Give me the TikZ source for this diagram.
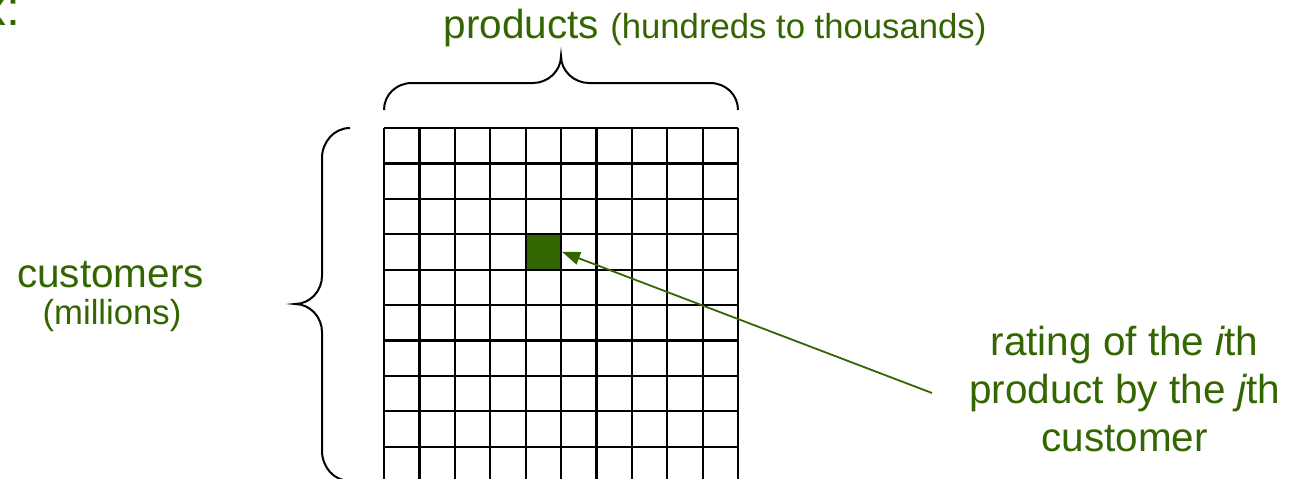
\documentclass[tikz,border=0pt]{standalone}
\usepackage{fontspec}
\setmainfont{Liberation Sans}
\usetikzlibrary{positioning, arrows.meta, calc}
\definecolor{leaf}{HTML}{336600}

\begin{document}
\begin{tikzpicture}[
    x=1pt, y=-1pt,
    bigtext/.style={
        text=leaf, inner sep=0pt,
        font=\fontsize{40.5}{48.4}\selectfont
    },
    smalltext/.style={
        text=leaf, inner sep=0pt,
        font=\fontsize{34.7}{41.6}\selectfont
    },
    gridline/.style={line width=2.2pt, black},
    brace/.style={line width=2pt, black},
    ratecell/.style={
        rectangle, draw=black, line width=2.2pt, fill=leaf,
        minimum size=35.4pt, inner sep=0pt
    },
    pointer/.style={-{Triangle[length=18pt, width=13pt]}, line width=1.8pt, draw=leaf}
]

\useasboundingbox (0,0) rectangle (1291,479);
\clip (0,0) rectangle (1291,479);

%% ─── TITLE (cut off at the left edge) ───────────────────────────────────

\node[bigtext, font=\fontsize{50}{60}\selectfont, anchor=base east] (title) at (20.5,25) {x:};

%% ─── RATINGS GRID ───────────────────────────────────────────────────────

\foreach \k in {0,...,10} {
    \draw[gridline] (384+35.4*\k,128) -- (384+35.4*\k,482);
    \draw[gridline] (384,128+35.4*\k) -- (738,128+35.4*\k);
}

\node[ratecell] (rij) at (543.3,251.9) {};

%% ─── BRACES ─────────────────────────────────────────────────────────────

% over the columns
\draw[brace] (384,110) .. controls (384,95) and (396,83) .. (412,83) -- (533,83)
    .. controls (548,83) and (561,71) .. (561,56)
    .. controls (561,71) and (574,83) .. (589,83) -- (710,83)
    .. controls (726,83) and (738,95) .. (738,110);

% beside the rows
\draw[brace] (350,128) .. controls (334,128) and (322,142) .. (322,158) -- (322,276)
    .. controls (322,291) and (310,304) .. (295,304)
    .. controls (310,304) and (322,317) .. (322,332) -- (322,451)
    .. controls (322,467) and (334,481) .. (350,481);

%% ─── LABELS ─────────────────────────────────────────────────────────────

\node[bigtext, anchor=base west] (prod) at (443.5,38)
    {products \fontsize{34.7}{41.6}\selectfont (hundreds to thousands)};

\node[bigtext, anchor=base] (cust) at (110.5,287) {customers};
\node[smalltext, anchor=base] (mill) at (112,324) {(millions)};

\node[bigtext, align=center] (rlabel) at (1124.5,389)
    {rating of the {\itshape i}th\\product by the {\itshape j}th\\customer};

%% ─── POINTER ────────────────────────────────────────────────────────────

\coordinate (tail) at (932,393);
\draw[pointer] (tail) -- (rij.east);

\end{tikzpicture}
\end{document}
